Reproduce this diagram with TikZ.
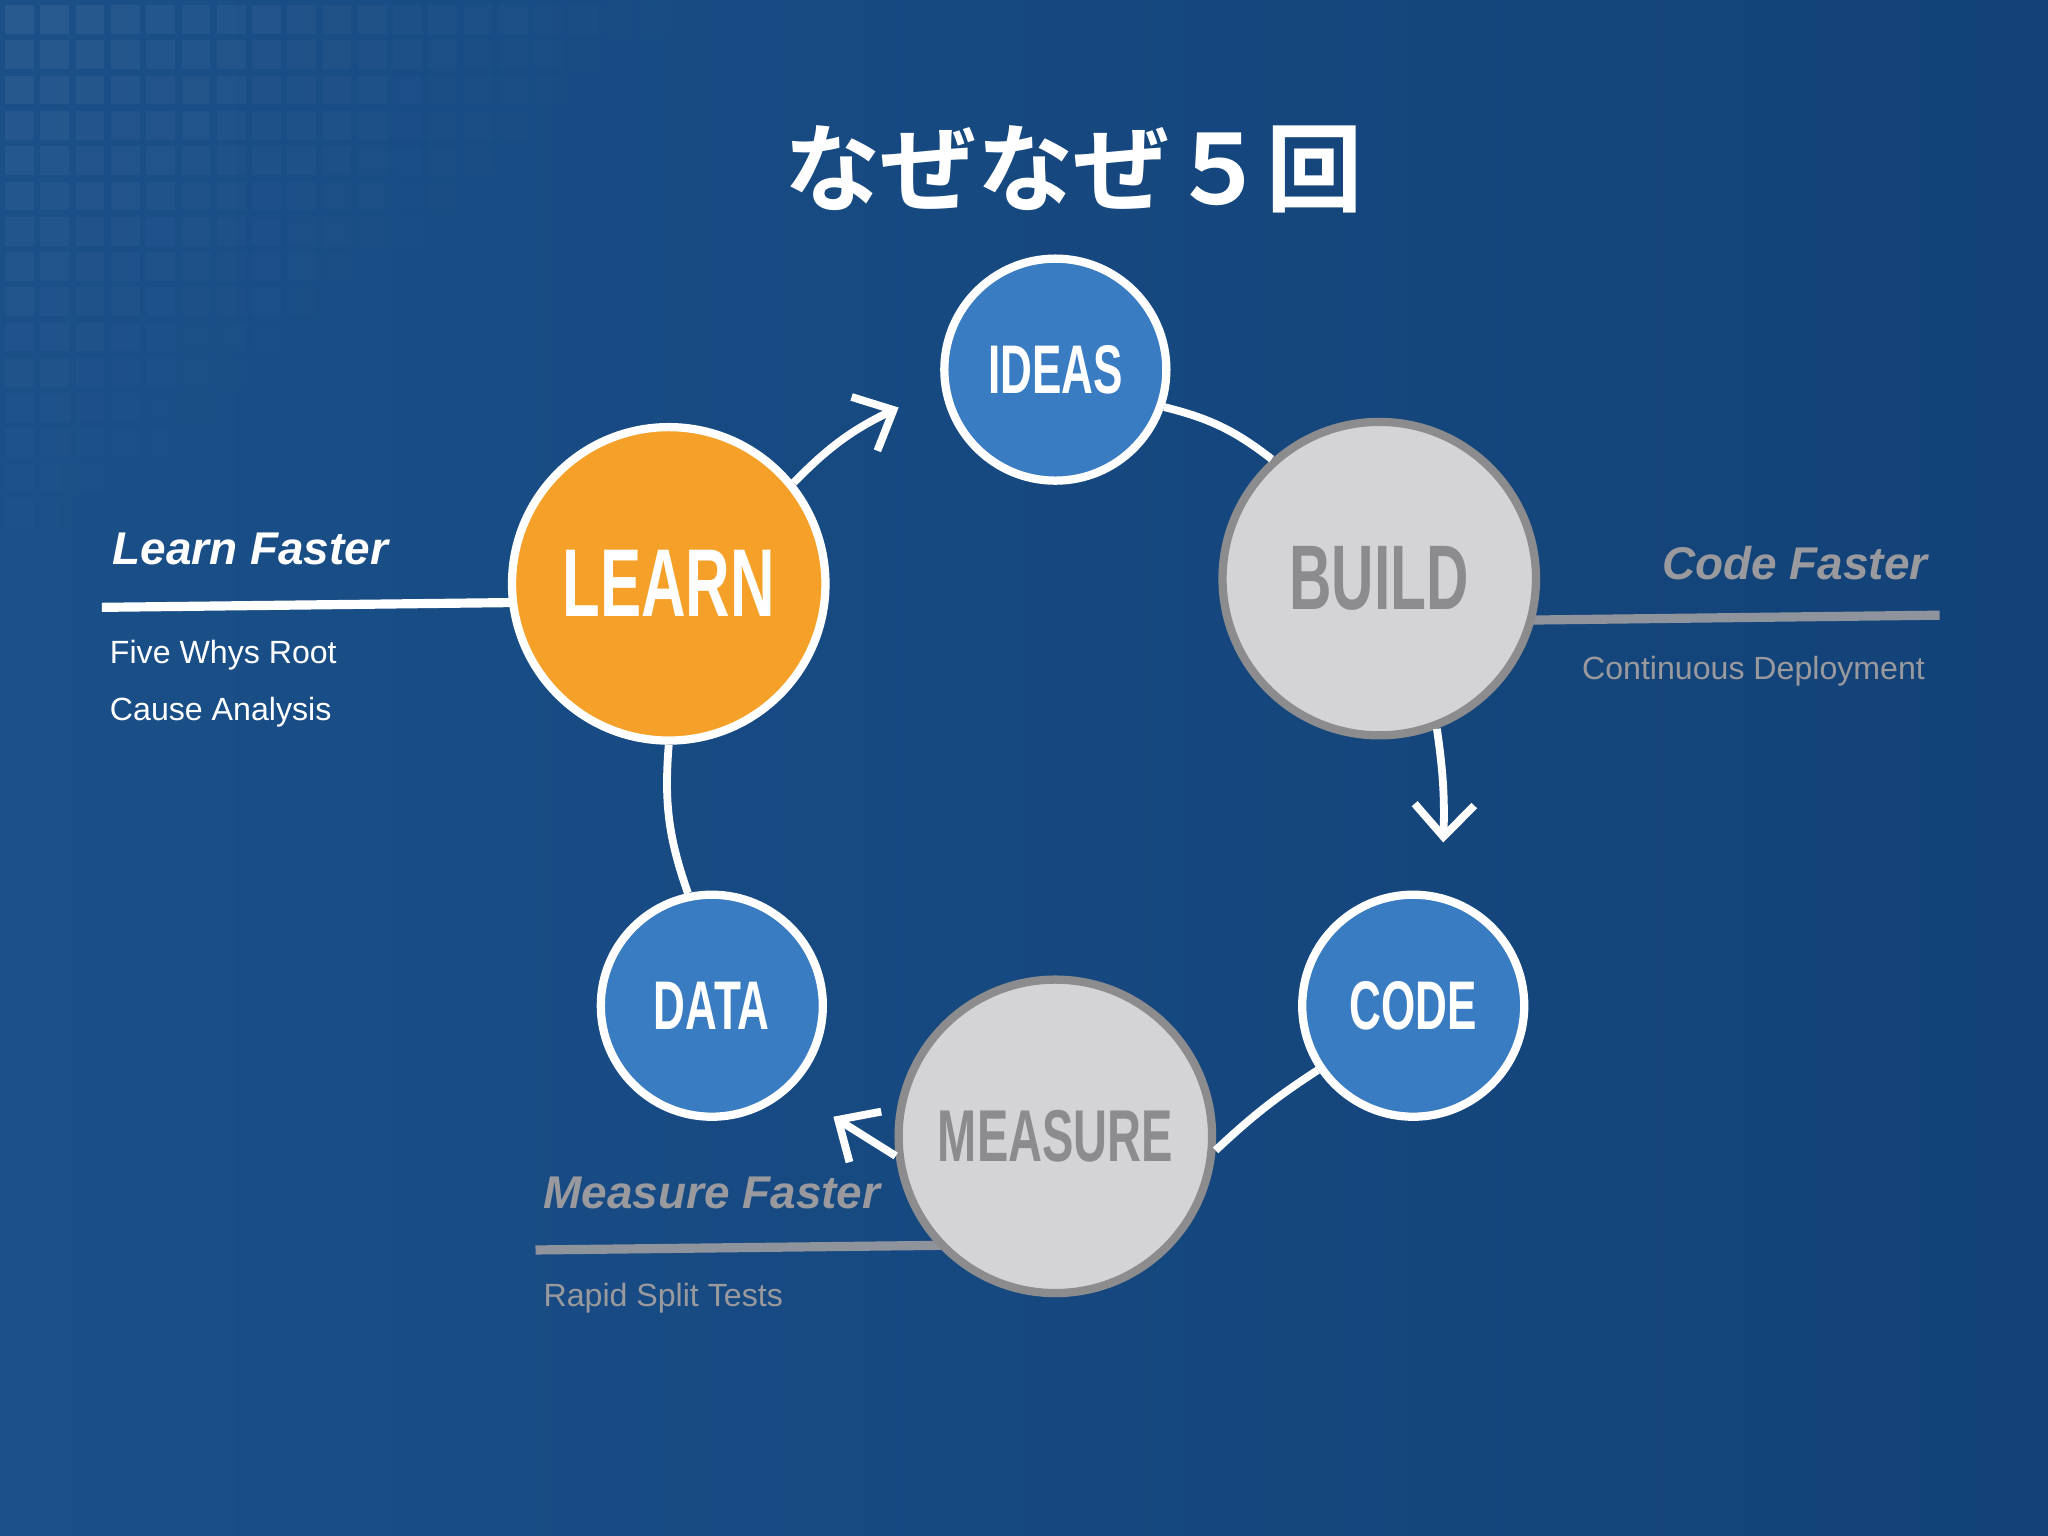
\documentclass[tikz,border=0pt]{standalone}
\usepackage{fontspec}
\setmainfont{Liberation Sans}
\newfontfamily\cjk{Noto Sans CJK JP}[BoldFont={* Bold}]
\usetikzlibrary{arrows.meta}
\definecolor{bgA}{HTML}{1A4F88}
\definecolor{bgB}{HTML}{124277}
\definecolor{cblue}{HTML}{3A7CC2}
\definecolor{corange}{HTML}{F5A129}
\definecolor{cgrey}{HTML}{D4D4D6}
\definecolor{cgreyb}{HTML}{8C8C8E}
\definecolor{tgrey}{HTML}{9A9A9E}
\definecolor{lgrey}{HTML}{8F949C}
\tikzset{
  circ/.style={circle,inner sep=0pt,line width=3.6pt,font=\bfseries},
  bluec/.style={circ,fill=cblue,draw=white,text=white,minimum size=170*0.02cm},
  orangec/.style={circ,fill=corange,draw=white,text=white,minimum size=240*0.02cm},
  greyc/.style={circ,fill=cgrey,draw=cgreyb,text=cgreyb,minimum size=240*0.02cm},
  conn/.style={white,line width=3.4pt},
  arr/.style={conn,-{Straight Barb[length=14pt,width=26pt,line width=3.4pt]}},
}
\newcommand{\cnd}[1]{\scalebox{0.64}[1]{#1}}
\begin{document}
\begin{tikzpicture}[x=0.02cm,y=-0.02cm]
\shade[left color=bgA,right color=bgB] (0,0) rectangle (1568,1176);
\useasboundingbox (0,0) rectangle (1568,1176);
\foreach \i in {0,...,19}{\foreach \j in {0,...,21}{
  \pgfmathsetmacro\op{max(0,0.06-0.003*\i-0.0035*\j)}
  \fill[white,opacity=\op] (4+\i*27,4+\j*27) rectangle ++(22,22);}}
\node[text=white,font=\cjk\bfseries\fontsize{42}{50}\selectfont] (title) at (822,130) {なぜなぜ５回};
% side lines (drawn beneath the circles)
\coordinate (l1) at (78,465);  \coordinate (l2) at (420,461);
\coordinate (c1) at (1150,475); \coordinate (c2) at (1485,471);
\coordinate (m1) at (410,957); \coordinate (m2) at (760,953);
\draw[white,line width=4pt] (l1) -- (l2);
\draw[lgrey,line width=4pt] (c1) -- (c2);
\draw[lgrey,line width=4pt] (m1) -- (m2);
\node[bluec,font=\fontsize{30}{30}\selectfont\bfseries] (ideas) at (808,283) {\cnd{IDEAS}};
\node[orangec,font=\fontsize{42}{42}\selectfont\bfseries] (learn) at (512,447) {\cnd{LEARN}};
\node[greyc,font=\fontsize{40}{40}\selectfont\bfseries] (build) at (1056,443) {\cnd{BUILD}};
\node[bluec,font=\fontsize{30}{30}\selectfont\bfseries] (code) at (1082,770) {\cnd{CODE}};
\node[greyc,font=\fontsize{32}{32}\selectfont\bfseries] (measure) at (808,870) {\cnd{MEASURE}};
\node[bluec,font=\fontsize{30}{30}\selectfont\bfseries] (data) at (545,770) {\cnd{DATA}};
\coordinate (a1) at (688,312);
\coordinate (a2) at (1105,645);
\coordinate (a3) at (638,855);
\draw[arr] (learn.39) to[bend left=10] (a1);
\draw[conn] (ideas.-19) to[bend left=12] (build.132);
\draw[arr] (build.-69) to[bend left=5] (a2);
\draw[conn] (code.214) to[bend right=5] (measure.-5);
\draw[arr] (measure.187) -- (a3);
\draw[conn] (data.102) to[bend left=12] (learn.-90);
\node[anchor=base west,text=white,font=\fontsize{20}{20}\selectfont\bfseries\itshape] (lf) at (80,432) {Learn Faster};
\node[anchor=base west,text=white,font=\fontsize{14}{14}\selectfont] (lf1) at (78,508) {Five Whys Root};
\node[anchor=base west,text=white,font=\fontsize{14}{14}\selectfont] (lf2) at (78,552) {Cause Analysis};
\node[anchor=base east,text=tgrey,font=\fontsize{20}{20}\selectfont\bfseries\itshape] (cf) at (1482,444) {Code Faster};
\node[anchor=base east,text=tgrey,font=\fontsize{14}{14}\selectfont] (cf1) at (1480,520) {Continuous Deployment};
\node[anchor=base west,text=tgrey,font=\fontsize{20}{20}\selectfont\bfseries\itshape] (mf) at (410,925) {Measure Faster};
\node[anchor=base west,text=tgrey,font=\fontsize{14}{14}\selectfont] (mf1) at (410,1000) {Rapid Split Tests};
\end{tikzpicture}
\end{document}
